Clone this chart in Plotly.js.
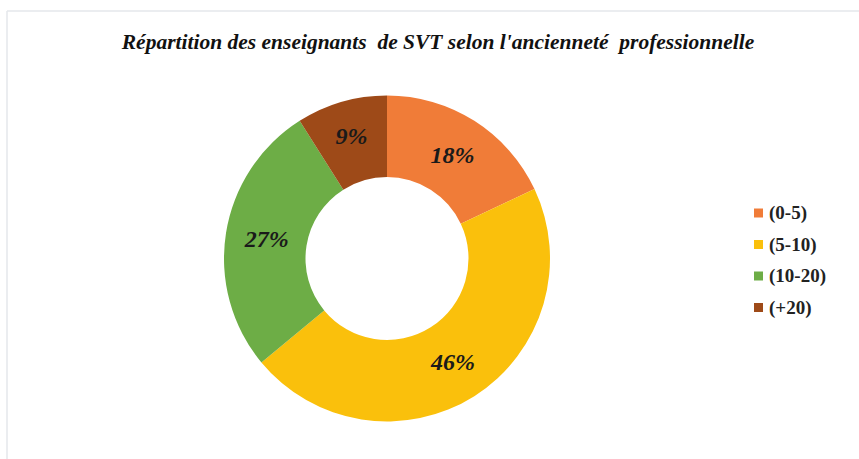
<!DOCTYPE html>
<html>
<head>
<meta charset="utf-8">
<script src="https://cdn.plot.ly/plotly-3.0.1.min.js"></script>
<style>
html,body{margin:0;padding:0;background:#fff;}
#chart{width:859px;height:459px;}
</style>
</head>
<body>
<div id="chart"></div>
<script>
const categories = ["(0-5)", "(5-10)", "(10-20)", "(+20)"];
const values = [18, 46, 27, 9];
const colors = ["#F07C38", "#FAC00C", "#6DAD46", "#9E4A18"];
const titleText = "Répartition des enseignants  de SVT selon l'ancienneté  professionnelle";

const W = 859, H = 459;
const serif = "Liberation Serif, Times New Roman, serif";

const trace = {
  type: "pie",
  labels: categories,
  values: values,
  hole: 0.5,
  sort: false,
  direction: "clockwise",
  rotation: 0,
  marker: {colors: colors, line: {width: 0}},
  textinfo: "percent",
  texttemplate: "%{percent:.0%}",
  textposition: "inside",
  insidetextorientation: "horizontal",
  textfont: {family: serif, size: 24, color: "#1a1a1a", weight: "bold", style: "italic"},
  hoverinfo: "label+percent",
  showlegend: false,
  domain: {x: [224/W, 550/W], y: [1 - 421.5/H, 1 - 95.5/H]}
};

// custom legend (spacing matches the reference better than the built-in one)
const legTop = 213, legStep = 31.5, legSquareX = 754, legSquare = 9, legTextX = 767;
const legShapes = categories.map((c, i) => {
  const yc = legTop + i * legStep;
  return {type: "rect", xref: "paper", yref: "paper",
    x0: legSquareX / W, x1: (legSquareX + legSquare) / W,
    y0: 1 - (yc + legSquare / 2) / H, y1: 1 - (yc - legSquare / 2) / H,
    fillcolor: colors[i], line: {width: 0}};
});
const legAnn = categories.map((c, i) => ({
  xref: "paper", yref: "paper",
  x: legTextX / W, xanchor: "left",
  y: 1 - (legTop + i * legStep) / H, yanchor: "middle",
  text: "<b>" + c + "</b>", showarrow: false,
  font: {family: serif, size: 19, color: "#222"}
}));

const layout = {
  width: W,
  height: H,
  margin: {l: 0, r: 0, t: 0, b: 0},
  paper_bgcolor: "#ffffff",
  showlegend: false,
  title: {
    text: "<b><i>" + titleText + "</i></b>",
    font: {family: serif, size: 21.5, color: "#111"},
    x: 438/W, xanchor: "center",
    y: 1 - 41/H, yanchor: "middle"
  },
  annotations: legAnn,
  shapes: [
    {type: "line", xref: "paper", yref: "paper", x0: 7/W, x1: 1, y0: 1 - 11/H, y1: 1 - 11/H, line: {color: "#e4e7eb", width: 1.5}},
    {type: "line", xref: "paper", yref: "paper", x0: 7/W, x1: 7/W, y0: 0, y1: 1 - 11/H, line: {color: "#e4e7eb", width: 1.5}}
  ].concat(legShapes)
};

Plotly.newPlot("chart", [trace], layout, {displayModeBar: false, staticPlot: true});
</script>
</body>
</html>
